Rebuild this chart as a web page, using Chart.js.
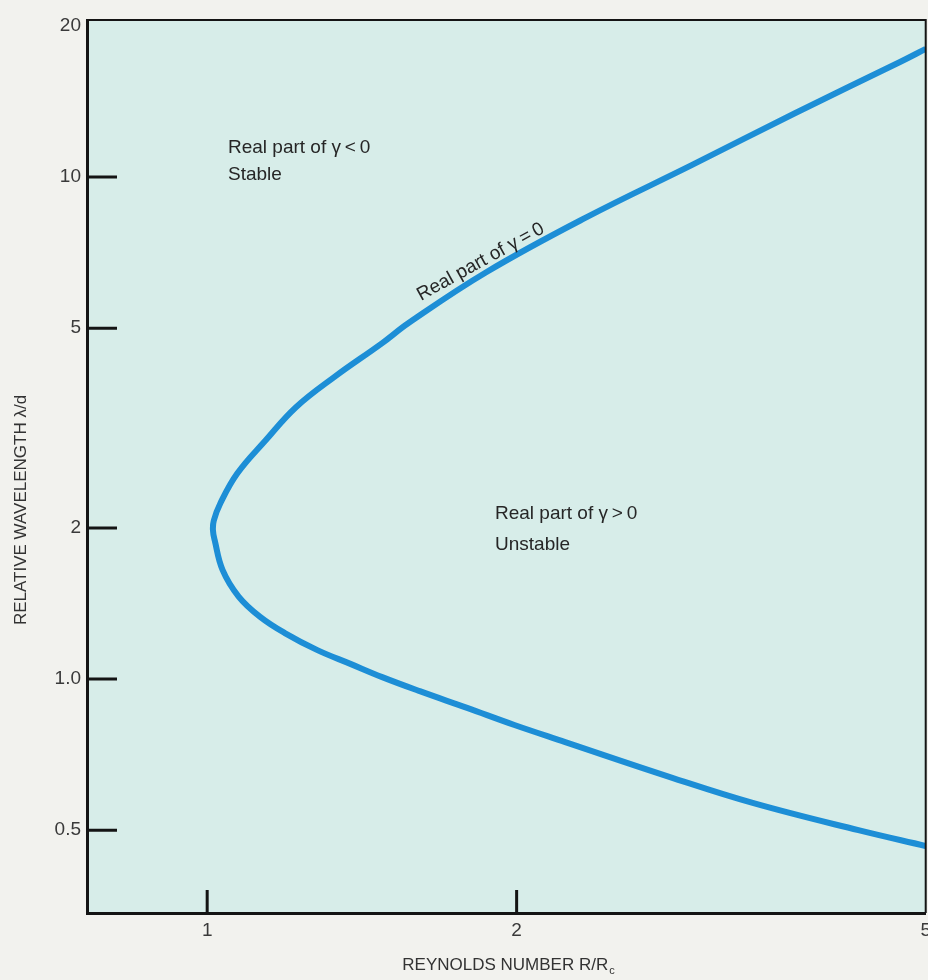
<!DOCTYPE html>
<html>
<head>
<meta charset="utf-8">
<title>Neutral stability curve</title>
<script src="https://cdn.jsdelivr.net/npm/chart.js@4.4.1/dist/chart.umd.min.js"></script>
<style>
  html, body { margin: 0; padding: 0; background: #f2f2ee; overflow: hidden; }
  #wrap { width: 937px; height: 980px; }
</style>
</head>
<body>
<div id="wrap"><canvas id="chart" width="937" height="980"></canvas></div>
<script>
// curve: top-right end, round the nose, out to the bottom-right end
const reynolds   = [5.0, 4.72, 3.73, 2.96, 2.34, 1.87, 1.57, 1.48, 1.33, 1.22, 1.14, 1.07, 1.03, 1.015, 1.013,
                    1.017, 1.035, 1.073, 1.126, 1.19, 1.28, 1.38, 1.48, 1.61, 1.79, 1.99, 2.23, 2.82, 3.40, 4.30, 5.0];
const wavelength = [18.0, 16.95, 13.4, 10.56, 8.32, 6.47, 5.12, 4.67, 4.0, 3.48, 2.99, 2.57, 2.24, 2.07, 1.98,
                    1.89, 1.65, 1.46, 1.33, 1.235, 1.142, 1.071, 1.009, 0.946, 0.876, 0.810, 0.749, 0.638, 0.566, 0.500, 0.465];

const xTicks = [1, 2, 5];
const xTickLabels = ["1", "2", "5"];
const yTicks = [0.5, 1, 2, 5, 10, 20];
const yTickLabels = ["0.5", "1.0", "2", "5", "10", "20"];

const FONT = "'Liberation Sans', Arial, sans-serif";
Chart.defaults.font.family = FONT;

/* background, frame, inward tick marks and the text on the plot */
const paperPlugin = {
  id: "paper",
  beforeDraw(chart) {
    const { ctx, chartArea: a } = chart;
    ctx.save();
    ctx.fillStyle = "#d7ede9";
    ctx.fillRect(a.left, a.top, a.right - a.left, a.bottom - a.top);
    ctx.restore();
  },
  afterDraw(chart) {
    const { ctx, chartArea: a, scales: { x, y } } = chart;
    ctx.save();

    // top and right edges of the frame
    ctx.strokeStyle = "#141414";
    ctx.lineWidth = 2;
    ctx.beginPath();
    ctx.moveTo(a.left, a.top);
    ctx.lineTo(a.right, a.top);
    ctx.lineTo(a.right, a.bottom);
    ctx.stroke();

    // tick marks pointing into the plot
    ctx.lineWidth = 3;
    ctx.beginPath();
    yTicks.forEach(v => {
      const py = y.getPixelForValue(v);
      if (py - a.top < 12) return;
      ctx.moveTo(a.left, py);
      ctx.lineTo(a.left + 30, py);
    });
    xTicks.forEach(v => {
      const px = x.getPixelForValue(v);
      if (a.right - px < 12) return;
      ctx.moveTo(px, a.bottom);
      ctx.lineTo(px, a.bottom - 23);
    });
    ctx.stroke();

    // region labels
    ctx.fillStyle = "#262626";
    ctx.font = "19px " + FONT;
    ctx.textAlign = "left";
    ctx.textBaseline = "alphabetic";
    ctx.fillText("Real part of γ\u2009<\u20090", 228, 153);
    ctx.fillText("Stable", 228, 180);
    ctx.fillText("Real part of γ\u2009>\u20090", 495, 519);
    ctx.fillText("Unstable", 495, 550);

    ctx.save();
    ctx.translate(421, 301);
    ctx.rotate(-29 * Math.PI / 180);
    ctx.fillText("Real part of γ\u2009=\u20090", 0, 0);
    ctx.restore();

    // axis titles
    ctx.fillStyle = "#333";
    ctx.font = "17px " + FONT;
    ctx.save();
    ctx.translate(21, 510);
    ctx.rotate(-Math.PI / 2);
    ctx.textAlign = "center";
    ctx.textBaseline = "middle";
    ctx.fillText("RELATIVE WAVELENGTH λ/d", 0, 0);
    ctx.restore();

    const main = "REYNOLDS NUMBER R/R";
    const wMain = ctx.measureText(main).width;
    ctx.font = "11px " + FONT;
    const wSub = ctx.measureText("c").width;
    const x0 = 508 - (wMain + wSub) / 2;
    ctx.font = "17px " + FONT;
    ctx.fillText(main, x0, 970);
    ctx.font = "11px " + FONT;
    ctx.fillText("c", x0 + wMain + 1, 974);

    ctx.restore();
  }
};

new Chart(document.getElementById("chart"), {
  type: "scatter",
  data: {
    datasets: [{
      data: reynolds.map((r, i) => ({ x: r, y: wavelength[i] })),
      showLine: true,
      borderColor: "#1d8ed6",
      borderWidth: 6,
      pointRadius: 0,
      tension: 0.4,
      fill: false
    }]
  },
  options: {
    responsive: false,
    animation: false,
    devicePixelRatio: 1,
    layout: { padding: { top: 20, left: 0, right: 0, bottom: 0 } },
    plugins: { legend: { display: false }, tooltip: { enabled: false } },
    scales: {
      x: {
        type: "logarithmic",
        bounds: "data",
        min: 0.764,
        max: 5,
        afterBuildTicks: s => { s.ticks = xTicks.map(v => ({ value: v })); },
        afterFit: s => { s.height = 67; },
        grid: { display: false, drawTicks: false },
        border: { display: true, color: "#141414", width: 3 },
        ticks: {
          color: "#3a3a3a",
          font: { size: 19 },
          padding: 6,
          maxRotation: 0,
          autoSkip: false,
          callback: (v, i) => xTickLabels[i]
        }
      },
      y: {
        type: "logarithmic",
        bounds: "data",
        min: 0.342,
        max: 20.55,
        afterBuildTicks: s => { s.ticks = yTicks.map(v => ({ value: v })); },
        afterFit: s => { s.width = 87; },
        grid: { display: false, drawTicks: false },
        border: { display: true, color: "#141414", width: 3 },
        ticks: {
          color: "#3a3a3a",
          font: { size: 19 },
          padding: 6,
          autoSkip: false,
          callback: (v, i) => yTickLabels[i]
        }
      }
    }
  },
  plugins: [paperPlugin]
});
</script>
</body>
</html>
